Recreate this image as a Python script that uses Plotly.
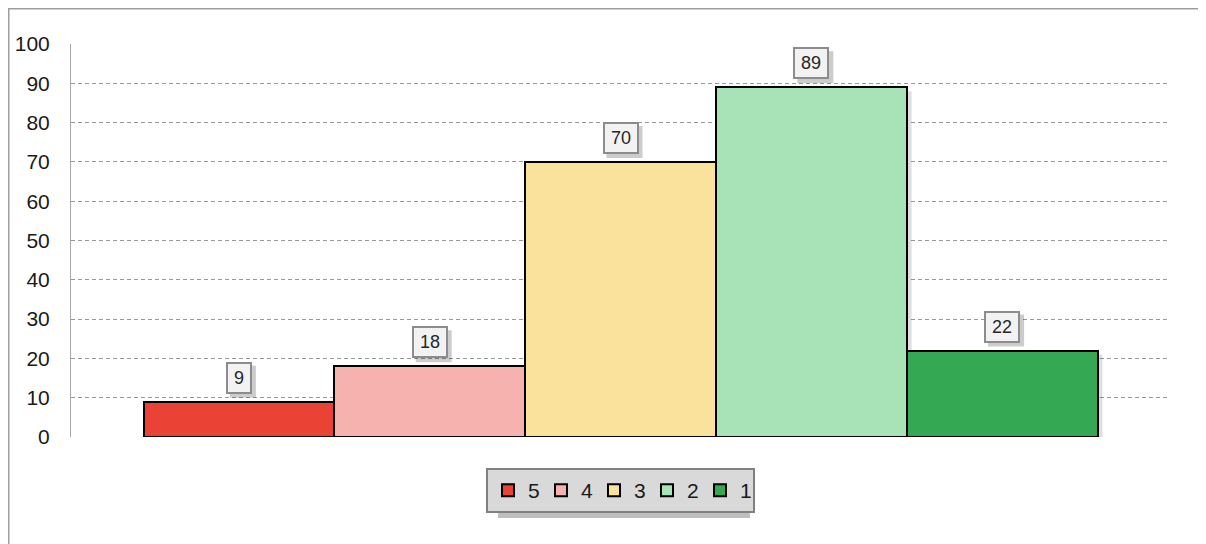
import plotly.graph_objects as go

categories = ["5", "4", "3", "2", "1"]
values = [9, 18, 70, 89, 22]
colors = ["#EA4335", "#F6B2AE", "#FBE29C", "#A7E3B6", "#34A853"]
y_ticks = list(range(0, 101, 10))

# page has an 8px body margin; figure occupies page (8,8) onwards
O = 8
W, H = 1206 - O, 544 - O
L, T = 71 - O, 44 - O
R = W - (1170 - O)
B = H - (437 - O)
pw, ph = W - L - R, H - T - B
X_RANGE = [-0.88, 4.88]
px_per_x = pw / (X_RANGE[1] - X_RANGE[0])
px_per_y = ph / 100


def px_x(p):  # figure px -> paper
    return (p - L) / pw


def px_y(p):
    return (H - B - p) / ph


fig = go.Figure()
for i, (name, v, c) in enumerate(zip(categories, values, colors)):
    fig.add_trace(go.Bar(
        x=[i], y=[v], name=name, width=1,
        marker=dict(color=c, line=dict(color="#000000", width=2)),
        hoverinfo="y",
    ))

annotations = []
shapes = []
for i, v in enumerate(values):
    # soft bar shadow
    shapes.append(dict(
        type="rect", xref="x", yref="y",
        x0=i - 0.5 + 5 / px_per_x, x1=i + 0.5 + 5 / px_per_x,
        y0=0, y1=v - 4 / px_per_y,
        line=dict(width=0), fillcolor="rgba(0,0,0,0.12)", layer="between",
    ))
    n = len(str(v))
    bw = 16 + 10 * n
    shapes.append(dict(
        type="rect", xref="x", yref="y", xsizemode="pixel", ysizemode="pixel",
        xanchor=i, yanchor=v, x0=-bw / 2 + 4, x1=bw / 2 + 4, y0=4, y1=36,
        line=dict(width=0), fillcolor="rgba(0,0,0,0.2)", layer="above",
    ))
    annotations.append(dict(
        x=i, y=v, xref="x", yref="y", text=str(v), showarrow=False,
        yanchor="bottom", yshift=8,
        font=dict(size=18, color="#262626", family="Liberation Sans, Arial"),
        bgcolor="#F2F2F2", bordercolor="#8C8C8C", borderwidth=2,
        borderpad=6, height=16,
    ))

shapes += [
    # outer chart border (only top and left edges are within view)
    dict(type="rect", xref="paper", yref="paper",
         x0=px_x(0.75), x1=px_x(W + 40), y0=px_y(H + 40), y1=px_y(0.75),
         line=dict(color="#9E9E9E", width=1.5), fillcolor="rgba(0,0,0,0)", layer="below"),
    # legend shadow
    dict(type="rect", xref="paper", yref="paper",
         x0=px_x(490), x1=px_x(742), y0=px_y(510), y1=px_y(465),
         line=dict(width=0), fillcolor="rgba(0,0,0,0.25)", layer="above"),
]

fig.update_layout(
    width=W, height=H,
    margin=dict(l=L, r=R, t=T, b=B, pad=0, autoexpand=False),
    paper_bgcolor="white", plot_bgcolor="white",
    barmode="overlay", bargap=0,
    font=dict(family="Liberation Sans, Arial", color="#1A1A1A"),
    xaxis=dict(range=X_RANGE, showticklabels=False, showgrid=False,
               zeroline=False, showline=False, fixedrange=True, automargin=False),
    yaxis=dict(range=[0, 100], tickvals=y_ticks, ticktext=[str(t) for t in y_ticks],
               showgrid=True, gridcolor="#9A9A9A", griddash="4px,3px", gridwidth=1,
               zeroline=False, showline=True, linecolor="#A6A6A6", linewidth=1,
               ticks="", tickfont=dict(size=21, color="#1A1A1A"),
               ticklabelstandoff=16, automargin=False),
    legend=dict(orientation="h", x=0.5, xanchor="center", y=px_y(460), yanchor="top",
                bgcolor="#D9D9D9", bordercolor="#808080", borderwidth=2,
                font=dict(size=21, color="#1A1A1A"), itemwidth=30,
                entrywidth=8, entrywidthmode="pixels",
                traceorder="normal"),
    showlegend=True,
    annotations=annotations,
    shapes=shapes,
)

fig.write_html("out.html")
